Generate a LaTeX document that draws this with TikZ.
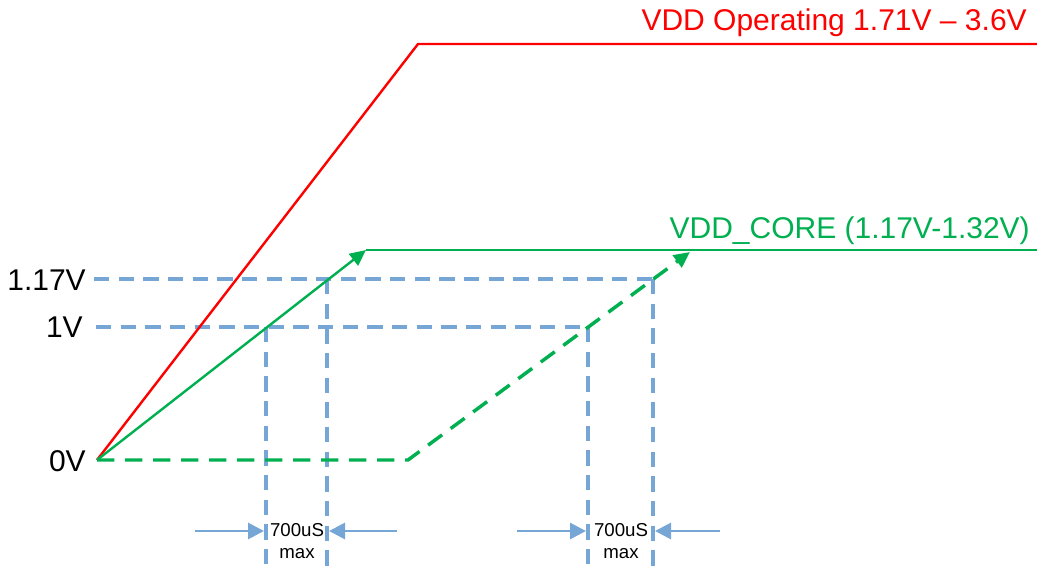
\documentclass[tikz,border=0pt]{standalone}
\usepackage{fontspec}
\setmainfont{Liberation Sans}
\usetikzlibrary{arrows.meta}
\definecolor{vred}{RGB}{255,0,0}
\definecolor{vgreen}{RGB}{0,176,80}
\definecolor{vblue}{RGB}{118,166,214}
\tikzset{
  guide/.style={draw=vblue, line width=2.6pt, dash pattern=on 11.5pt off 7pt},
  meas/.style={draw=vblue, line width=2.2pt, -{Triangle[length=12pt,width=12pt]}},
  redline/.style={draw=vred, line width=1.8pt},
  grnline/.style={draw=vgreen, line width=1.8pt},
  grndash/.style={draw=vgreen, line width=2.6pt, dash pattern=on 13pt off 8pt},
  gtip/.style={-{Triangle[length=12pt,width=11pt]}},
  axlbl/.style={font=\fontsize{22.5}{26}\selectfont, anchor=east, inner sep=0pt},
  toplbl/.style={font=\fontsize{22.5}{26}\selectfont, anchor=east, inner sep=0pt},
  small/.style={font=\fontsize{14}{16}\selectfont, inner sep=0pt}
}
\begin{document}
\begin{tikzpicture}[x=0.75pt,y=-0.75pt]
\useasboundingbox (0,0) rectangle (1037,566);
% coordinates
\coordinate (O) at (97,460);
\coordinate (Rtop) at (418,44);
\coordinate (Rend) at (1037,44);
\coordinate (Gtop) at (366,250);
\coordinate (Gend) at (1037,250);
\coordinate (Dmid) at (408,460);
\coordinate (Dtop) at (690,252);
\coordinate (H1a) at (94,279);
\coordinate (H1b) at (655,279);
\coordinate (H2a) at (96,327);
\coordinate (H2b) at (590,327);
\coordinate (V1t) at (266,327);
\coordinate (V1b) at (266,566);
\coordinate (V2t) at (327,279);
\coordinate (V2b) at (327,566);
\coordinate (V3t) at (588,327);
\coordinate (V3b) at (588,566);
\coordinate (V4t) at (653,279);
\coordinate (V4b) at (653,566);
\coordinate (A1s) at (195,531);
\coordinate (A1e) at (264,531);
\coordinate (A2s) at (397,531);
\coordinate (A2e) at (329,531);
\coordinate (A3s) at (517,531);
\coordinate (A3e) at (586,531);
\coordinate (A4s) at (720,531);
\coordinate (A4e) at (655,531);
% guides
\draw[guide] (H1a) -- (H1b);
\draw[guide] (H2a) -- (H2b);
\draw[guide] (V1t) -- (V1b);
\draw[guide] (V2t) -- (V2b);
\draw[guide] (V3t) -- (V3b);
\draw[guide] (V4t) -- (V4b);
% measurement arrows
\draw[meas] (A1s) -- (A1e);
\draw[meas] (A2s) -- (A2e);
\draw[meas] (A3s) -- (A3e);
\draw[meas] (A4s) -- (A4e);
\node[small] (t1) at (297,530) {700uS};
\node[small] (m1) at (297,554) {max};
\node[small] (t2) at (621,530) {700uS};
\node[small] (m2) at (621,554) {max};
% curves
\draw[redline] (O) -- (Rtop) -- (Rend);
\draw[grnline, gtip] (O) -- (Gtop);
\draw[grnline] (Gtop) -- (Gend);
\draw[grndash, gtip] (O) -- (Dmid) -- (Dtop);
% labels
\node[axlbl] (l117) at (86,280) {1.17V};
\node[axlbl] (l1) at (83,327) {1V};
\node[axlbl] (l0) at (86,461) {0V};
\node[toplbl, text=vred] (lvdd) at (1027,23) {VDD Operating 1.71V – 3.6V};
\node[toplbl, text=vgreen] (lcore) at (1030,231) {VDD\_CORE (1.17V-1.32V)};
\end{tikzpicture}
\end{document}
